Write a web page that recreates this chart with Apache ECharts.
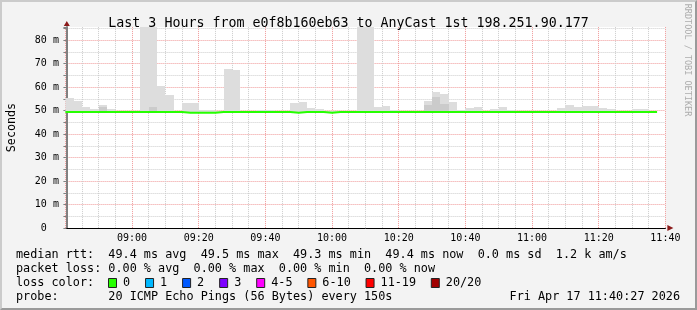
<!DOCTYPE html>
<html><head><meta charset="utf-8">
<script src="https://cdn.jsdelivr.net/npm/echarts@6/dist/echarts.min.js"></script>
<style>
html,body{margin:0;padding:0;background:#f3f3f3;}
#wrap{position:relative;width:697px;height:310px;overflow:hidden;}
#chart{position:absolute;left:0;top:0;width:697px;height:310px;}
#frame{position:absolute;left:0;top:0;width:697px;height:310px;box-sizing:border-box;border-top:2px solid #cbcbcb;border-left:2px solid #cbcbcb;border-right:2px solid #9a9a9a;border-bottom:2px solid #9a9a9a;pointer-events:none;}
</style></head><body>
<div id="wrap"><div id="chart"></div><div id="frame"></div></div>
<script>
// ---------- data ----------
const TITLE = 'Last 3 Hours from e0f8b160eb63 to AnyCast 1st 198.251.90.177';
const Y_NAME = 'Seconds';
const WATERMARK = 'RRDTOOL / TOBI OETIKER';
const START_MIN = 520;   // 08:40 (minutes since midnight)
const END_MIN = 700;     // 11:40
const STEP_MIN = 2.5;    // 150 s probe step
const Y_MAX = 85.5;      // ms

// upper edge of the smoke (ms), one per 150 s step
const smokeTop = [
  55.3, 54.0, 51.5, 50.6, 52.3, 50.6, 50.0, 50.0, 50.0, 90.0,
  90.0, 60.4, 56.7, 49.9, 53.3, 53.3, 50.2, 50.2, 49.9, 67.7,
  67.2, 49.9, 49.9, 50.2, 50.2, 49.9, 49.9, 53.2, 53.6, 51.1,
  50.6, 49.9, 49.9, 49.9, 49.9, 90.0, 90.0, 51.5, 51.9, 50.2,
  49.9, 49.9, 49.9, 54.0, 57.9, 57.0, 53.6, 50.4, 51.1, 51.5,
  49.9, 50.6, 51.5, 50.2, 49.9, 49.9, 49.9, 49.9, 49.9, 51.1,
  52.3, 51.5, 51.9, 51.9, 51.1, 50.6, 49.9, 49.9, 50.6, 50.6,
  49.9
];
// inner (denser) smoke band top, null where not visible
const smokeInner = [
  null, null, null, null, 51.5, null, null, null, null, null,
  51.5, null, null, null, null, null, null, null, null, null,
  null, null, null, null, null, null, null, null, null, null,
  null, null, null, null, null, null, null, null, null, null,
  null, null, null, 52.3, 55.7, 52.8, null, null, null, null,
  null, null, null, null, null, null, null, null, null, null,
  null, null, null, null, null, null, null, null, null, null,
  null
];
// lower edge of the smoke (ms), hidden under the median line
const smokeLow = [
  49.1, 49.1, 49.1, 49.1, 49.1, 49.1, 49.1, 49.1, 49.1, 49.1,
  49.1, 49.1, 49.1, 49.1, 49.0, 49.0, 49.0, 49.0, 49.1, 49.1,
  49.1, 49.1, 49.1, 49.1, 49.1, 49.1, 49.1, 49.0, 49.1, 49.1,
  49.1, 49.0, 49.1, 49.1, 49.1, 49.1, 49.1, 49.1, 49.1, 49.1,
  49.1, 49.1, 49.1, 49.1, 49.1, 49.1, 49.1, 49.1, 49.1, 49.1,
  49.1, 49.1, 49.1, 49.1, 49.1, 49.1, 49.1, 49.1, 49.1, 49.1,
  49.1, 49.1, 49.1, 49.1, 49.1, 49.1, 49.1, 49.1, 49.1, 49.1,
  49.1
];
// median rtt (ms)
const medianRtt = [
  49.4, 49.4, 49.4, 49.4, 49.4, 49.4, 49.4, 49.4, 49.4, 49.4,
  49.4, 49.4, 49.4, 49.4, 49.0, 49.0, 49.0, 49.0, 49.4, 49.4,
  49.4, 49.4, 49.4, 49.4, 49.4, 49.4, 49.4, 49.0, 49.4, 49.4,
  49.4, 49.0, 49.4, 49.4, 49.4, 49.4, 49.4, 49.4, 49.4, 49.4,
  49.4, 49.4, 49.4, 49.4, 49.4, 49.4, 49.4, 49.4, 49.4, 49.4,
  49.4, 49.4, 49.4, 49.4, 49.4, 49.4, 49.4, 49.4, 49.4, 49.4,
  49.4, 49.4, 49.4, 49.4, 49.4, 49.4, 49.4, 49.4, 49.4, 49.4,
  49.4
];

const statLines = [
  'median rtt:  49.4 ms avg  49.5 ms max  49.3 ms min  49.4 ms now  0.0 ms sd  1.2 k am/s',
  'packet loss: 0.00 % avg  0.00 % max  0.00 % min  0.00 % now',
  'loss color:',
  'probe:       20 ICMP Echo Pings (56 Bytes) every 150s'
];
const DATE_TEXT = 'Fri Apr 17 11:40:27 2026';
const lossLabels = ['0', '1', '2', '3', '4-5', '6-10', '11-19', '20/20'];
const lossColors = ['#26ff00', '#00b8ff', '#0059ff', '#7e00ff', '#ff00ff', '#ff5500', '#ff0000', '#a10000'];

// ---------- styles ----------
const MONO = 'DejaVu Sans Mono';
const GRID = {left: 65.4, top: 27.1, width: 600, height: 200.9};
const MAJOR = '#f09a9a', MINOR = '#cdcdcd';
const SMOKE = '#dddddd', SMOKE_DARK = '#cbcbcb';
const LINE_GREEN = '#26ff00';
const TXT = 11.8;

const pad = n => (n < 10 ? '0' : '') + n;
const slotData = smokeTop.map((v, i) => [START_MIN + i * STEP_MIN, smokeLow[i], v]);
const innerData = smokeInner.map((v, i) => [START_MIN + i * STEP_MIN, smokeLow[i], v == null ? smokeLow[i] : v]);
const medianPts = medianRtt.map((v, i) => [START_MIN + i * STEP_MIN, v]);
medianPts.push([START_MIN + medianRtt.length * STEP_MIN, medianRtt[medianRtt.length - 1]]);

function smokeRenderer(color) {
  return function (params, api) {
    const t = api.value(0), lo = api.value(1), hi = api.value(2);
    if (hi <= lo) return null;
    const a = api.coord([t, hi]);
    const b = api.coord([t + STEP_MIN, lo]);
    const x0 = Math.round(a[0]), x1 = Math.round(b[0]);
    const y0 = Math.round(a[1]), y1 = Math.round(b[1]);
    const cs = params.coordSys;
    const r = echarts.graphic.clipRectByRect(
      {x: x0, y: y0, width: x1 - x0, height: y1 - y0},
      {x: cs.x, y: cs.y, width: cs.width, height: cs.height});
    if (!r) return null;
    return {type: 'rect', shape: r, style: {fill: color}};
  };
}

const chart = echarts.init(document.getElementById('chart'), null, {renderer: 'canvas'});
const option = {
  animation: false,
  backgroundColor: '#f3f3f3',
  title: {
    text: TITLE, left: 'center', top: 12,
    textStyle: {fontFamily: MONO, fontSize: 13.3, fontWeight: 'normal', color: '#000'}
  },
  grid: Object.assign({show: true, backgroundColor: '#ffffff', borderWidth: 0, containLabel: false, outerBoundsMode: 'none'}, GRID),
  xAxis: {
    type: 'value', min: START_MIN, max: END_MIN, interval: 5,
    axisLine: {show: true, onZero: false, lineStyle: {color: '#000', width: 1}},
    axisTick: {show: false},
    axisLabel: {
      show: true, margin: 5, fontFamily: MONO, fontSize: 10, color: '#000',
      showMinLabel: true, showMaxLabel: true, hideOverlap: false,
      formatter: v => (v % 20 === 0 && v > START_MIN) ? pad(Math.floor(v / 60)) + ':' + pad(v % 60) : ''
    },
    splitLine: {show: true, showMinLine: true, showMaxLine: true,
      lineStyle: {color: [MAJOR, MINOR, MINOR, MINOR], type: [1, 1], width: 1}}
  },
  yAxis: {
    type: 'value', min: 0, max: Y_MAX, interval: 5, offset: -1,
    name: Y_NAME, nameLocation: 'middle', nameRotate: 90, nameGap: 48,
    nameTextStyle: {fontFamily: MONO, fontSize: 11.7, color: '#000'},
    axisLine: {show: true, lineStyle: {color: '#808080', width: 2}},
    axisTick: {show: true, length: 3, lineStyle: {color: '#808080'}},
    axisLabel: {
      show: true, margin: 7.5, fontFamily: MONO, fontSize: 10, color: '#000',
      showMinLabel: true, showMaxLabel: true, hideOverlap: false,
      formatter: v => (v % 10 === 0 && v <= 80) ? (v === 0 ? '0  ' : v + ' m') : ''
    },
    splitLine: {show: true, showMinLine: false, showMaxLine: false,
      lineStyle: {color: [MINOR, MAJOR], type: [1, 1], width: 1}}
  },
  series: [
    {type: 'custom', name: 'smoke', data: slotData, renderItem: smokeRenderer(SMOKE), z: 2, silent: true},
    {type: 'custom', name: 'smoke-inner', data: innerData, renderItem: smokeRenderer(SMOKE_DARK), z: 3, silent: true},
    {type: 'line', name: 'median rtt', data: medianPts, step: 'end', symbol: 'none', z: 5,
      lineStyle: {color: LINE_GREEN, width: 2}, silent: true}
  ]
};
chart.setOption(option);

// decorations: axis arrows, watermark, legend rows
const tl = chart.convertToPixel({gridIndex: 0}, [START_MIN, Y_MAX]);
const br = chart.convertToPixel({gridIndex: 0}, [END_MIN, 0]);
const graphics = [];
const ax = tl[0] + 1.4;
graphics.push({type: 'polygon', shape: {points: [[ax - 3, tl[1] - 1], [ax + 3, tl[1] - 1], [ax, tl[1] - 6]]}, style: {fill: '#8b1a1a'}, z: 10});
graphics.push({type: 'polygon', shape: {points: [[br[0] + 2, br[1] - 3], [br[0] + 2, br[1] + 3], [br[0] + 8, br[1]]]}, style: {fill: '#8b1a1a'}, z: 10});
graphics.push({type: 'text', x: 687, y: 60, rotation: -Math.PI / 2,
  style: {text: WATERMARK, fontFamily: MONO, fontSize: 8.5, fill: '#acacac', align: 'center', verticalAlign: 'middle'}, z: 10});
const rowY = [255, 269, 283, 297];
statLines.forEach((s, i) => {
  graphics.push({type: 'text', x: 16, y: rowY[i],
    style: {text: s, fontFamily: MONO, fontSize: TXT, fill: '#000', align: 'left', verticalAlign: 'middle'}, z: 10});
});
graphics.push({type: 'text', x: 680, y: rowY[3],
  style: {text: DATE_TEXT, fontFamily: MONO, fontSize: TXT, fill: '#000', align: 'right', verticalAlign: 'middle'}, z: 10});
const CW = 7.05;
let lx = 108;
lossLabels.forEach((lab, i) => {
  graphics.push({type: 'rect', shape: {x: lx + 0.5, y: rowY[2] - 4.5, width: 8, height: 9},
    style: {fill: lossColors[i], stroke: '#222', lineWidth: 1}, z: 10});
  graphics.push({type: 'text', x: lx + 15, y: rowY[2],
    style: {text: lab, fontFamily: MONO, fontSize: TXT, fill: '#000', align: 'left', verticalAlign: 'middle'}, z: 10});
  lx += 15 + lab.length * CW + 15;
});
chart.setOption({graphic: graphics});
</script>
</body></html>
